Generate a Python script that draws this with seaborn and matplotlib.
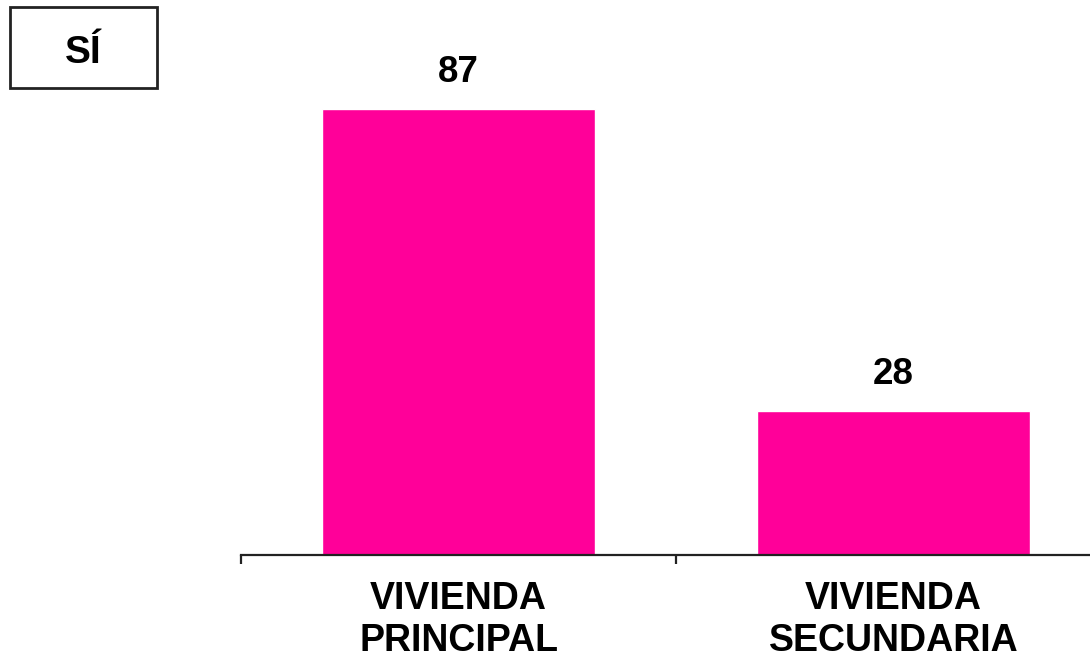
import matplotlib
matplotlib.use("Agg")
import matplotlib.pyplot as plt
import seaborn as sns
import pandas as pd
from matplotlib.patches import Rectangle

# data
categories = ["VIVIENDA\nPRINCIPAL", "VIVIENDA\nSECUNDARIA"]
values = [87, 28]
box_label = "SÍ"

sns.set_theme(style="white")
plt.rcParams["font.family"] = ["Liberation Sans", "DejaVu Sans"]

W, H = 1090, 658
fig = plt.figure(figsize=(W / 100, H / 100), dpi=100)
# axes runs past the right edge of the figure, like the reference
ax = fig.add_axes([241 / W, (H - 555) / H, 870 / W, 512.6 / H])

df = pd.DataFrame({"cat": categories, "val": values})
sns.barplot(data=df, x="cat", y="val", color="#FF0099", saturation=1,
            width=0.628, ax=ax)

ax.set_ylim(0, 100)
ax.set_xlim(-0.5, 1.5)
for s in ["top", "right", "left"]:
    ax.spines[s].set_visible(False)
ax.spines["bottom"].set_color("#222222")
ax.spines["bottom"].set_linewidth(1.6)
ax.set_yticks([])
ax.set_xlabel("")
ax.set_ylabel("")

# ticks on category boundaries, labels at centres
ax.set_xticks([-0.5, 0.5, 1.5])
ax.set_xticklabels([])
ax.set_xticks([0, 1], minor=True)
ax.set_xticklabels(categories, minor=True, fontsize=27, fontweight="bold",
                   linespacing=1.22, color="black")
ax.tick_params(axis="x", which="major", direction="out", length=6.5,
               width=1.6, color="#222222", bottom=True)
ax.tick_params(axis="x", which="minor", length=0, pad=18.5)

for i, v in enumerate(values):
    ax.annotate(str(v), xy=(i, v), xytext=(0, 19.5), textcoords="offset points",
                ha="center", va="baseline", fontsize=26.5, fontweight="bold",
                color="black")

# boxed label top-left
fig.patches.append(Rectangle((10 / W, (H - 88) / H), 147 / W, 81 / H,
                             transform=fig.transFigure, fill=False,
                             edgecolor="#222222", linewidth=2))
fig.text(83 / W, (H - 63) / H, box_label, ha="center", va="baseline",
         fontsize=28, fontweight="bold", color="black")

fig.savefig("out.png", dpi=100)
